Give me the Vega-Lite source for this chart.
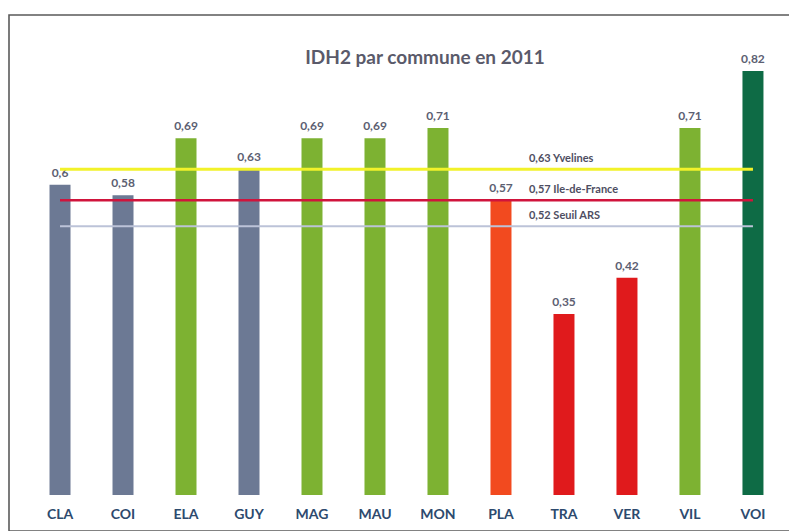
{
  "$schema": "https://vega.github.io/schema/vega-lite/v6.json",
  "autosize": "none",
  "padding": {"top": 15, "left": 9, "right": 0, "bottom": 0},
  "width": 782,
  "height": 516,
  "background": "white",
  "config": {
    "view": {"stroke": "#5a5a5a", "strokeWidth": 1.6},
    "font": "Lato"
  },
  "title": {
    "text": "IDH2 par commune en 2011",
    "font": "Lato",
    "fontSize": 19,
    "fontWeight": "bold",
    "color": "#5a5a6a",
    "anchor": "middle",
    "dx": 25,
    "offset": -53
  },
  "datasets": {
    "communes": [
      {"commune": "CLA", "idh2": 0.6, "label": "0,6", "groupe": "moyen"},
      {"commune": "COI", "idh2": 0.58, "label": "0,58", "groupe": "moyen"},
      {"commune": "ELA", "idh2": 0.69, "label": "0,69", "groupe": "haut"},
      {"commune": "GUY", "idh2": 0.63, "label": "0,63", "groupe": "moyen"},
      {"commune": "MAG", "idh2": 0.69, "label": "0,69", "groupe": "haut"},
      {"commune": "MAU", "idh2": 0.69, "label": "0,69", "groupe": "haut"},
      {"commune": "MON", "idh2": 0.71, "label": "0,71", "groupe": "haut"},
      {"commune": "PLA", "idh2": 0.57, "label": "0,57", "groupe": "bas"},
      {"commune": "TRA", "idh2": 0.35, "label": "0,35", "groupe": "très bas"},
      {"commune": "VER", "idh2": 0.42, "label": "0,42", "groupe": "très bas"},
      {"commune": "VIL", "idh2": 0.71, "label": "0,71", "groupe": "haut"},
      {"commune": "VOI", "idh2": 0.82, "label": "0,82", "groupe": "très haut"}
    ],
    "references": [
      {"nom": "Yvelines", "valeur": 0.63, "label": "0,63 Yvelines", "debut": "CLA", "fin": "VOI"},
      {"nom": "Ile-de-France", "valeur": 0.57, "label": "0,57 Ile-de-France", "debut": "CLA", "fin": "VOI"},
      {"nom": "Seuil ARS", "valeur": 0.52, "label": "0,52 Seuil ARS", "debut": "CLA", "fin": "VOI"}
    ]
  },
  "resolve": {"scale": {"color": "independent"}},
  "layer": [
    {
      "data": {"name": "communes"},
      "mark": {"type": "bar", "width": 21},
      "encoding": {
        "x": {
          "field": "commune",
          "type": "nominal",
          "sort": null,
          "scale": {"paddingInner": 0.6825, "paddingOuter": 0.548, "align": 0.594},
          "axis": {
            "title": null,
            "domain": false,
            "ticks": false,
            "labelAngle": 0,
            "labelFont": "Lato",
            "labelFontSize": 14,
            "labelFontWeight": "bold",
            "labelColor": "#2d4a6e",
            "labelPadding": 0,
            "offset": -24
          }
        },
        "y": {
          "field": "idh2",
          "type": "quantitative",
          "scale": {"domain": [-0.0696, 0.9284], "nice": false, "zero": false},
          "axis": null
        },
        "color": {
          "field": "groupe",
          "type": "nominal",
          "scale": {
            "domain": ["moyen", "haut", "bas", "très bas", "très haut"],
            "range": ["#6c7994", "#7db232", "#f24a1f", "#e01a1c", "#0e6b45"]
          },
          "legend": null
        }
      }
    },
    {
      "data": {"name": "communes"},
      "mark": {"type": "text", "baseline": "alphabetic", "dy": -8, "font": "Lato", "fontSize": 12, "fontWeight": "bold", "color": "#5c6072"},
      "encoding": {
        "x": {"field": "commune", "type": "nominal", "sort": null},
        "y": {"field": "idh2", "type": "quantitative"},
        "text": {"field": "label"}
      }
    },
    {
      "data": {"name": "references"},
      "mark": {"type": "rule"},
      "encoding": {
        "x": {"field": "debut", "type": "nominal", "bandPosition": 0.5},
        "x2": {"field": "fin", "bandPosition": 0.5},
        "y": {"field": "valeur", "type": "quantitative"},
        "color": {
          "field": "nom",
          "type": "nominal",
          "scale": {
            "domain": ["Yvelines", "Ile-de-France", "Seuil ARS"],
            "range": ["#f2f22a", "#d0143c", "#bcc3d8"]
          },
          "legend": null
        },
        "strokeWidth": {
          "field": "nom",
          "type": "nominal",
          "scale": {"domain": ["Yvelines", "Ile-de-France", "Seuil ARS"], "range": [3, 2, 2.5]},
          "legend": null
        }
      }
    },
    {
      "data": {"name": "references"},
      "mark": {"type": "text", "align": "left", "baseline": "alphabetic", "dx": 28, "dy": -7, "font": "Lato", "fontSize": 11, "fontWeight": "bold", "color": "#4e4e62"},
      "encoding": {
        "x": {"datum": "PLA", "type": "nominal"},
        "y": {"field": "valeur", "type": "quantitative"},
        "text": {"field": "label"}
      }
    }
  ]
}
